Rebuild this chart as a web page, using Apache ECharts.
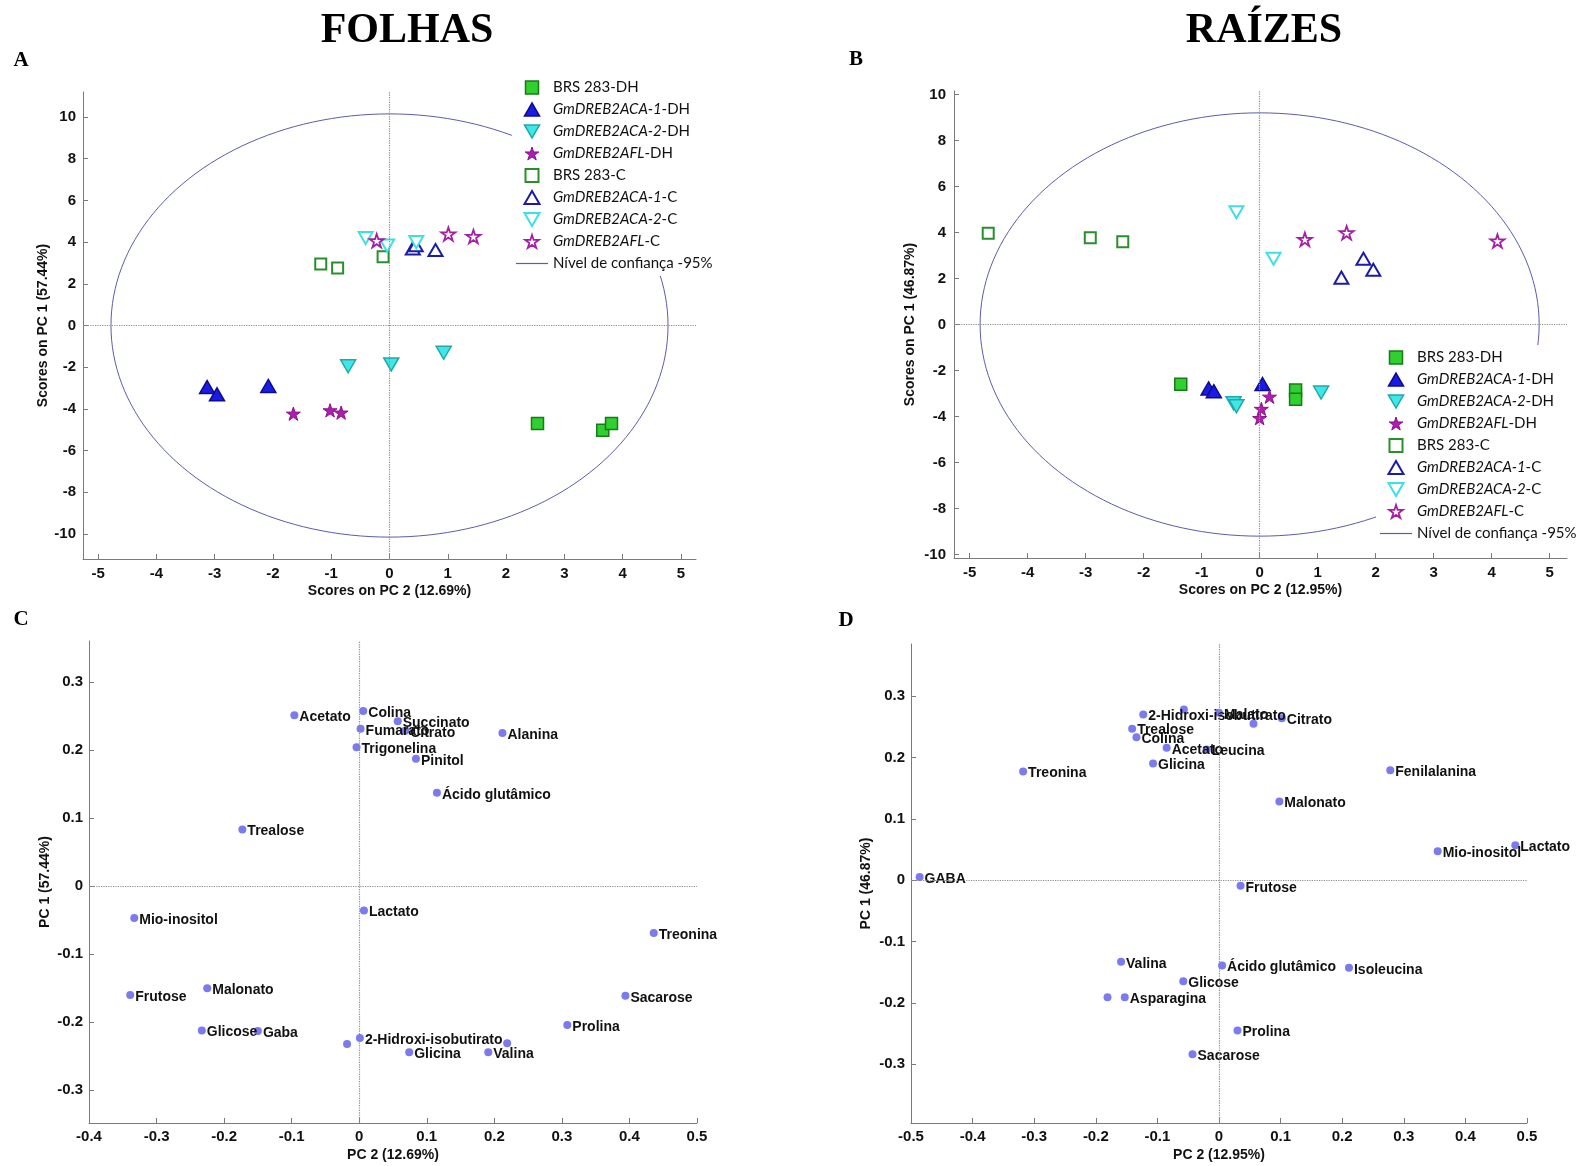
<!DOCTYPE html>
<html>
<head>
<meta charset="utf-8">
<title>PCA folhas e raízes</title>
<script src="https://cdn.jsdelivr.net/npm/echarts@6.0.0/dist/echarts.min.js"></script>
<style>
html,body{margin:0;padding:0;background:#fff;}
#main{width:1583px;height:1166px;}
</style>
</head>
<body>
<div id="main"></div>
<script>
// grupos da legenda
var grupos = ['BRS 283-DH','GmDREB2ACA-1-DH','GmDREB2ACA-2-DH','GmDREB2AFL-DH','BRS 283-C','GmDREB2ACA-1-C','GmDREB2ACA-2-C','GmDREB2AFL-C'];
var nomeElipse = 'Nível de confiança -95%';

// A - folhas, scores [PC2, PC1]
var folhasBrsDH  = [[2.54,-4.70],[3.66,-5.02],[3.81,-4.70]];
var folhasAca1DH = [[-3.13,-2.95],[-2.96,-3.30],[-2.08,-2.90]];
var folhasAca2DH = [[-0.71,-1.96],[0.03,-1.87],[0.93,-1.31]];
var folhasAflDH  = [[-1.65,-4.23],[-1.02,-4.07],[-0.83,-4.18]];
var folhasBrsC   = [[-1.18,2.95],[-0.89,2.76],[-0.11,3.30]];
var folhasAca1C  = [[0.40,3.70],[0.45,3.85],[0.79,3.62]];
var folhasAca2C  = [[-0.41,4.20],[-0.04,3.83],[0.46,4.00]];
var folhasAflC   = [[-0.22,4.07],[1.01,4.39],[1.44,4.27]];

// B - raizes, scores [PC2, PC1]
var raizesBrsDH  = [[-1.36,-2.60],[0.62,-2.85],[0.62,-3.25]];
var raizesAca1DH = [[-0.88,-2.78],[-0.79,-2.90],[0.05,-2.59]];
var raizesAca2DH = [[-0.45,-3.42],[-0.40,-3.55],[1.06,-2.96]];
var raizesAflDH  = [[0.17,-3.14],[0.03,-3.67],[0.00,-4.07]];
var raizesBrsC   = [[-4.68,3.97],[-2.92,3.77],[-2.36,3.60]];
var raizesAca1C  = [[1.41,2.04],[1.79,2.86],[1.96,2.38]];
var raizesAca2C  = [[-0.40,4.88],[0.24,2.86]];
var raizesAflC   = [[0.78,3.70],[1.50,3.99],[4.10,3.63]];

// semi-eixos da elipse de confiança [PC2, PC1]
var elipseFolhas = [4.78, 10.15];
var elipseRaizes = [4.82, 9.2];

// C - folhas, loadings
var folhasMetab = ['Acetato','Colina','Succinato','Fumarato','Citrato','Alanina','Trigonelina','Pinitol','Ácido glutâmico','Trealose','Mio-inositol','Lactato','Treonina','Frutose','Malonato','Sacarose','Prolina','Glicose','Gaba','2-Hidroxi-isobutirato','','','Glicina','Valina'];
var folhasPC2 = [-0.096,0.006,0.057,0.002,0.068,0.212,-0.004,0.084,0.115,-0.173,-0.333,0.007,0.436,-0.339,-0.225,0.394,0.308,-0.233,-0.150,0.001,-0.018,0.219,0.074,0.191];
var folhasPC1 = [0.251,0.257,0.242,0.231,0.228,0.225,0.204,0.187,0.137,0.083,-0.047,-0.036,-0.069,-0.160,-0.150,-0.161,-0.204,-0.212,-0.213,-0.223,-0.232,-0.231,-0.244,-0.244];

// D - raizes, loadings
var raizesMetab = ['GABA','Treonina','Glicina','2-Hidroxi-isobutirato','','Malato','','Citrato','Trealose','Colina','Acetato','Leucina','Fenilalanina','Malonato','Mio-inositol','Lactato','Frutose','Valina','Ácido glutâmico','Isoleucina','Glicose','','Asparagina','Prolina','Sacarose'];
var raizesPC2 = [-0.486,-0.318,-0.107,-0.123,-0.057,0.000,0.056,0.102,-0.141,-0.134,-0.085,-0.020,0.278,0.098,0.355,0.481,0.035,-0.159,0.005,0.211,-0.058,-0.181,-0.153,0.030,-0.043];
var raizesPC1 = [0.005,0.177,0.190,0.270,0.278,0.273,0.255,0.264,0.247,0.233,0.216,0.213,0.179,0.128,0.047,0.057,-0.009,-0.133,-0.139,-0.143,-0.165,-0.191,-0.191,-0.245,-0.284];

// ticks
var ticksScoreX = [-5,-4,-3,-2,-1,0,1,2,3,4,5];
var ticksScoreY = [-10,-8,-6,-4,-2,0,2,4,6,8,10];
var ticksFolhasX = [-0.4,-0.3,-0.2,-0.1,0,0.1,0.2,0.3,0.4,0.5];
var ticksFolhasY = [-0.3,-0.2,-0.1,0,0.1,0.2,0.3];
var ticksRaizesX = [-0.5,-0.4,-0.3,-0.2,-0.1,0,0.1,0.2,0.3,0.4,0.5];
var ticksRaizesY = [-0.3,-0.2,-0.1,0,0.1,0.2,0.3];

var SQ = 'path://M0,0H10V10H0Z';
var TRI_UP = 'path://M5,0L10,8.66L0,8.66Z';
var TRI_DN = 'path://M0,0L10,0L5,8.66Z';
var STAR = 'path://M10,0L12.245,6.91L19.51,6.91L13.63,11.18L15.88,18.09L10,13.82L4.12,18.09L6.37,11.18L0.49,6.91L7.755,6.91Z';
var LINHA = 'path://M0,0H32V1.2H0Z';
var corElipse = '#5c5caa';

var estilos = [
    {symbol: SQ,     size: 12, color: '#2fd02f', border: '#187a18', bw: 1.5},
    {symbol: TRI_UP, size: 15, color: '#1b1be6', border: '#0c0c8c', bw: 1.5},
    {symbol: TRI_DN, size: 15, color: '#3ee8e8', border: '#22a8a8', bw: 1.5},
    {symbol: STAR,   size: 14, color: '#b01cb0', border: '#8a128a', bw: 1},
    {symbol: SQ,     size: 11, color: '#ffffff', border: '#2a8f2a', bw: 2},
    {symbol: TRI_UP, size: 14, color: '#ffffff', border: '#1b1ba8', bw: 2},
    {symbol: TRI_DN, size: 14, color: '#ffffff', border: '#3ee0e6', bw: 2},
    {symbol: STAR,   size: 14, color: '#ffffff', border: '#a51fa5', bw: 1.8}
];

var fonteEixo = '"Liberation Sans", Arial, sans-serif';
var fonteLeg = 'Lato, "Open Sans", sans-serif';

function elipse(ab) {
    var pts = [];
    for (var t = 0; t <= 360; t += 2) {
        var r = t * Math.PI / 180;
        pts.push([ab[0] * Math.cos(r), ab[1] * Math.sin(r)]);
    }
    return pts;
}

var linhasZero = {
    silent: true,
    symbol: ['none', 'none'],
    label: {show: false},
    lineStyle: {color: '#8c8c8c', type: 'dotted', width: 1.2},
    data: [{xAxis: 0}, {yAxis: 0}]
};

function eixo(idx, min, max, ticks, nome, margem, gap) {
    return {
        gridIndex: idx, type: 'value', min: min, max: max,
        name: nome, nameLocation: 'middle', nameGap: gap,
        nameTextStyle: {fontFamily: fonteEixo, fontWeight: 'bold', fontSize: 14, color: '#111'},
        axisLine: {onZero: false, lineStyle: {color: '#7a7a7a', width: 1}},
        axisTick: {inside: true, length: 5, customValues: ticks, lineStyle: {color: '#7a7a7a'}},
        axisLabel: {customValues: ticks, margin: margem, fontFamily: fonteEixo, fontWeight: 'bold', fontSize: 15, color: '#111'},
        splitLine: {show: false}
    };
}

function legenda(left, top) {
    return {
        orient: 'vertical', left: left, top: top,
        itemWidth: 32, itemHeight: 13, itemGap: 7,
        padding: [5, 4, 5, 4],
        backgroundColor: '#ffffff',
        selectedMode: false,
        data: grupos.map(function (g, i) {
            return {name: g, icon: estilos[i].symbol,
                itemStyle: {color: estilos[i].color, borderColor: estilos[i].border, borderWidth: estilos[i].bw}};
        }).concat([{name: nomeElipse, icon: LINHA, itemStyle: {color: corElipse, borderWidth: 0}}]),
        formatter: function (name) {
            if (name.indexOf('Gm') === 0) {
                var k = name.lastIndexOf('-');
                return '{i|' + name.slice(0, k) + '}{n|' + name.slice(k) + '}';
            }
            return '{n|' + name + '}';
        },
        textStyle: {
            fontFamily: fonteLeg, fontSize: 15, color: '#111', lineHeight: 14,
            rich: {
                i: {fontFamily: fonteLeg, fontSize: 15, fontStyle: 'italic', color: '#111', lineHeight: 14},
                n: {fontFamily: fonteLeg, fontSize: 15, color: '#111', lineHeight: 14}
            }
        }
    };
}

var dadosFolhas = [folhasBrsDH, folhasAca1DH, folhasAca2DH, folhasAflDH, folhasBrsC, folhasAca1C, folhasAca2C, folhasAflC];
var dadosRaizes = [raizesBrsDH, raizesAca1DH, raizesAca2DH, raizesAflDH, raizesBrsC, raizesAca1C, raizesAca2C, raizesAflC];

var series = [];
[[dadosFolhas, elipseFolhas], [dadosRaizes, elipseRaizes]].forEach(function (p, idx) {
    series.push({
        name: nomeElipse, type: 'line', xAxisIndex: idx, yAxisIndex: idx,
        data: elipse(p[1]), symbol: 'none', silent: true, z: 1,
        lineStyle: {color: corElipse, width: 1},
        markLine: linhasZero
    });
    p[0].forEach(function (d, i) {
        var s = estilos[i];
        series.push({
            name: grupos[i], type: 'scatter', xAxisIndex: idx, yAxisIndex: idx,
            data: d, symbol: s.symbol, symbolSize: s.size, symbolKeepAspect: true, z: 3,
            itemStyle: {color: s.color, borderColor: s.border, borderWidth: s.bw, opacity: 1}
        });
    });
});

function cargas(idx, nomes, pc2, pc1) {
    return {
        type: 'scatter', xAxisIndex: idx, yAxisIndex: idx,
        data: nomes.map(function (n, i) { return {name: n, value: [pc2[i], pc1[i]]}; }),
        symbolSize: 8,
        itemStyle: {color: '#7b7bef', opacity: 1},
        label: {show: true, position: 'right', distance: 1, offset: [0, 2], formatter: '{b}',
            fontFamily: fonteEixo, fontWeight: 'bold', fontSize: 14, color: '#111'},
        markLine: linhasZero
    };
}
series.push(cargas(2, folhasMetab, folhasPC2, folhasPC1));
series.push(cargas(3, raizesMetab, raizesPC2, raizesPC1));

var chart = echarts.init(document.getElementById('main'));
var option = {
    backgroundColor: '#fff',
    animation: false,
    graphic: [
        {type: 'text', x: 407, y: 31, style: {text: 'FOLHAS', font: 'bold 42px "Liberation Serif", "Times New Roman", serif', fill: '#000', align: 'center', verticalAlign: 'middle'}},
        {type: 'text', x: 1264, y: 31, style: {text: 'RAÍZES', font: 'bold 42px "Liberation Serif", "Times New Roman", serif', fill: '#000', align: 'center', verticalAlign: 'middle'}},
        {type: 'text', x: 21, y: 61, style: {text: 'A', font: 'bold 21px "Liberation Serif", serif', fill: '#000', align: 'center', verticalAlign: 'middle'}},
        {type: 'text', x: 856, y: 60, style: {text: 'B', font: 'bold 21px "Liberation Serif", serif', fill: '#000', align: 'center', verticalAlign: 'middle'}},
        {type: 'text', x: 21, y: 620, style: {text: 'C', font: 'bold 21px "Liberation Serif", serif', fill: '#000', align: 'center', verticalAlign: 'middle'}},
        {type: 'text', x: 846, y: 621, style: {text: 'D', font: 'bold 21px "Liberation Serif", serif', fill: '#000', align: 'center', verticalAlign: 'middle'}}
    ],
    legend: [legenda(512, 75), legenda(1376, 345)],
    grid: [
        {left: 83, top: 92, width: 613, height: 467},
        {left: 954, top: 91, width: 613, height: 467},
        {left: 89, top: 641, width: 608, height: 482},
        {left: 911, top: 644, width: 616, height: 479}
    ],
    xAxis: [
        eixo(0, -5.26, 5.26, ticksScoreX, 'Scores on PC 2 (12.69%)', 7, 25),
        eixo(1, -5.27, 5.3, ticksScoreX, 'Scores on PC 2 (12.95%)', 7, 25),
        eixo(2, -0.4, 0.5, ticksFolhasX, 'PC 2 (12.69%)', 6, 25),
        eixo(3, -0.5, 0.5, ticksRaizesX, 'PC 2 (12.95%)', 6, 25)
    ],
    yAxis: [
        eixo(0, -11.2, 11.2, ticksScoreY, 'Scores on PC 1 (57.44%)', 7, 33),
        eixo(1, -10.15, 10.15, ticksScoreY, 'Scores on PC 1 (46.87%)', 8, 37),
        eixo(2, -0.348, 0.36, ticksFolhasY, 'PC 1 (57.44%)', 6, 37),
        eixo(3, -0.396, 0.385, ticksRaizesY, 'PC 1 (46.87%)', 6, 38)
    ],
    series: series
};
chart.setOption(option);
</script>
</body>
</html>
